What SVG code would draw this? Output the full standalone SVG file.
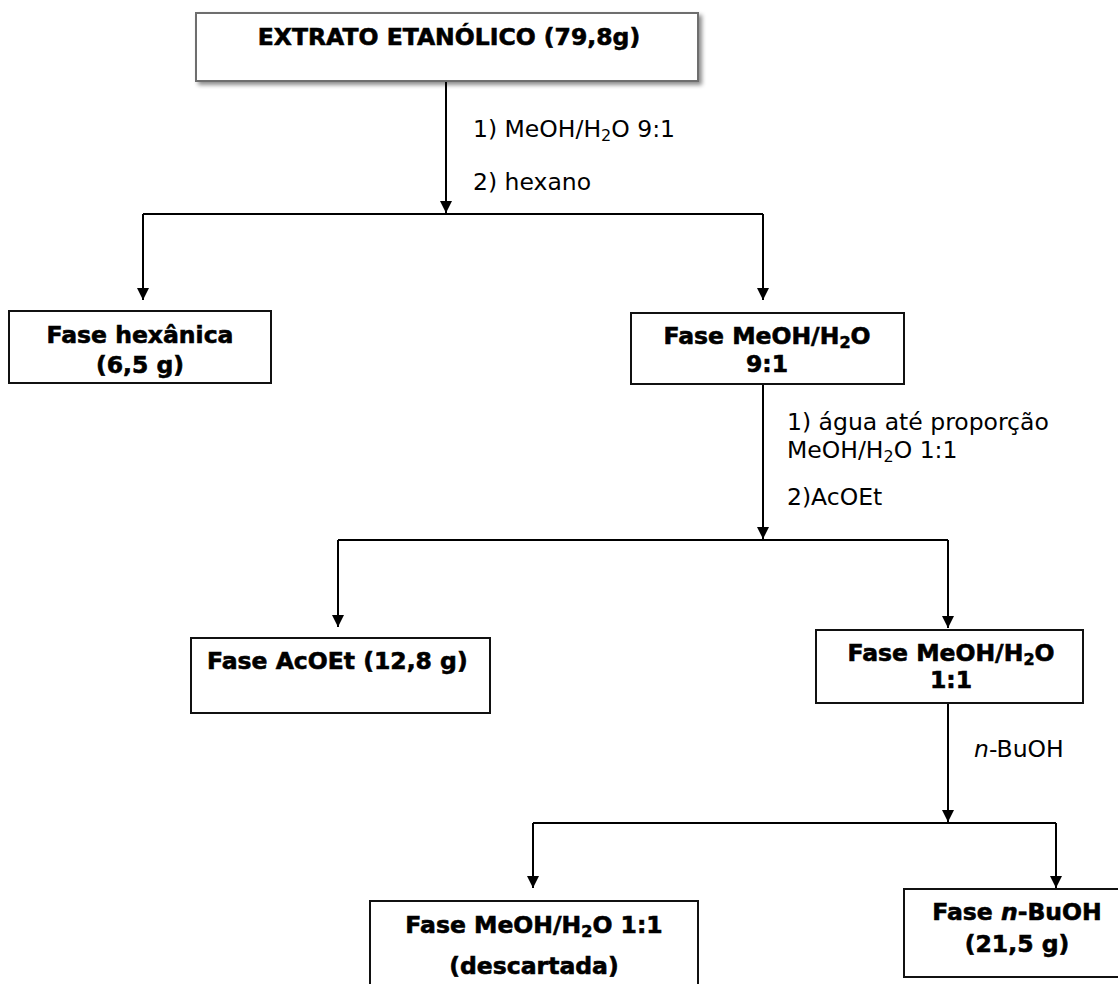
<svg xmlns="http://www.w3.org/2000/svg" width="1118" height="984" viewBox="0 0 1118 984">
  <defs>
    <marker id="arrow" viewBox="0 0 12 12" refX="12" refY="6" markerWidth="12" markerHeight="12" markerUnits="userSpaceOnUse" orient="auto">
      <path d="M0,0 L12,6 L0,12 z" fill="#000"/>
    </marker>
    <filter id="shadow" x="-5%" y="-20%" width="115%" height="150%">
      <feDropShadow dx="3" dy="3" stdDeviation="2" flood-color="#000" flood-opacity="0.45"/>
    </filter>
  </defs>
  <style>
    .box { fill: #fff; stroke: #111; stroke-width: 2; }
    .box-top { fill: #fff; stroke: #6e6e6e; stroke-width: 2; }
    .node { font-family: "DejaVu Sans", Verdana, sans-serif; font-weight: bold; font-size: 23.5px; fill: #000; stroke: #000; stroke-width: 0.6px; }
    .lbl { font-family: "DejaVu Sans", Verdana, sans-serif; font-size: 23.5px; fill: #000; }
    .sub { font-size: 16px; }
    .wire { fill: none; stroke: #000; stroke-width: 2; }
  </style>
  <rect width="1118" height="984" fill="#fff"/>

  <!-- connectors -->
  <g id="connectors">
    <path class="wire" d="M446,82 V213" marker-end="url(#arrow)"/>
    <path class="wire" d="M143,214 H763"/>
    <path class="wire" d="M143,214 V300" marker-end="url(#arrow)"/>
    <path class="wire" d="M763,214 V300" marker-end="url(#arrow)"/>

    <path class="wire" d="M763,384 V539" marker-end="url(#arrow)"/>
    <path class="wire" d="M338,540 H948"/>
    <path class="wire" d="M338,540 V627" marker-end="url(#arrow)"/>
    <path class="wire" d="M948,540 V628" marker-end="url(#arrow)"/>

    <path class="wire" d="M948,703 V822" marker-end="url(#arrow)"/>
    <path class="wire" d="M533,823 H1056"/>
    <path class="wire" d="M533,823 V888" marker-end="url(#arrow)"/>
    <path class="wire" d="M1056,823 V888" marker-end="url(#arrow)"/>
  </g>

  <!-- connector labels -->
  <g id="labels">
    <text class="lbl" x="473" y="137">1) MeOH/H<tspan class="sub" dy="4">2</tspan><tspan dy="-4">O 9:1</tspan></text>
    <text class="lbl" x="473" y="190">2) hexano</text>
    <text class="lbl" x="787" y="430">1) água até proporção</text>
    <text class="lbl" x="787" y="458">MeOH/H<tspan class="sub" dy="4">2</tspan><tspan dy="-4">O 1:1</tspan></text>
    <text class="lbl" x="787" y="505">2)AcOEt</text>
    <text class="lbl" x="974" y="757"><tspan font-style="italic">n</tspan>-BuOH</text>
  </g>

  <g id="extrato">
    <rect class="box-top" x="196" y="13" width="502" height="68" filter="url(#shadow)"/>
    <text class="node" x="449" y="45" text-anchor="middle">EXTRATO ETANÓLICO (79,8g)</text>
  </g>

  <g id="fase-hexanica">
    <rect class="box" x="9" y="311" width="262" height="72"/>
    <text class="node" x="140" y="343" text-anchor="middle">Fase hexânica</text>
    <text class="node" x="140" y="373" text-anchor="middle">(6,5 g)</text>
  </g>

  <g id="fase-meoh-91">
    <rect class="box" x="631" y="313" width="273" height="71"/>
    <text class="node" x="767" y="344" text-anchor="middle">Fase MeOH/H<tspan class="sub" dy="4">2</tspan><tspan dy="-4">O</tspan></text>
    <text class="node" x="767" y="372" text-anchor="middle">9:1</text>
  </g>

  <g id="fase-acoet">
    <rect class="box" x="191" y="638" width="299" height="75"/>
    <text class="node" x="207" y="669">Fase AcOEt (12,8 g)</text>
  </g>

  <g id="fase-meoh-11">
    <rect class="box" x="816" y="630" width="267" height="73"/>
    <text class="node" x="951" y="661" text-anchor="middle">Fase MeOH/H<tspan class="sub" dy="4">2</tspan><tspan dy="-4">O</tspan></text>
    <text class="node" x="951" y="688" text-anchor="middle">1:1</text>
  </g>

  <g id="fase-descartada">
    <rect class="box" x="370" y="901" width="328" height="95"/>
    <text class="node" x="534" y="933" text-anchor="middle">Fase MeOH/H<tspan class="sub" dy="4">2</tspan><tspan dy="-4">O 1:1</tspan></text>
    <text class="node" x="534" y="974" text-anchor="middle">(descartada)</text>
  </g>

  <g id="fase-nbuoh">
    <rect class="box" x="904" y="889" width="230" height="88"/>
    <text class="node" x="1017" y="920" text-anchor="middle">Fase <tspan font-style="italic">n</tspan>-BuOH</text>
    <text class="node" x="1017" y="952" text-anchor="middle">(21,5 g)</text>
  </g>
</svg>
